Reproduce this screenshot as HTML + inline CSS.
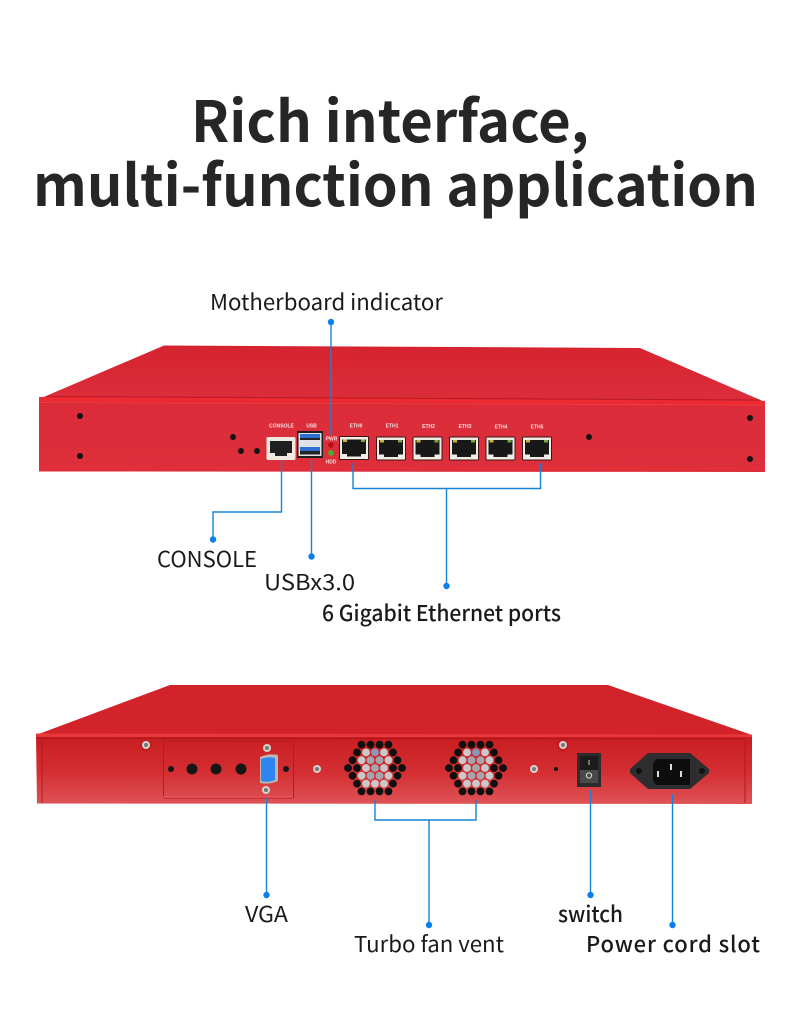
<!DOCTYPE html>
<html>
<head>
<meta charset="utf-8">
<style>
html,body{margin:0;padding:0;background:#fff;width:790px;height:1036px;overflow:hidden}
svg{display:block}
text{font-family:"Liberation Sans","Noto Sans CJK SC",sans-serif}
.t{font-family:"Noto Sans CJK SC","Liberation Sans",sans-serif;fill:#1a1a1a}
.h{font-family:"Noto Sans CJK SC","Liberation Sans",sans-serif;font-weight:700;font-size:57px;fill:#262626}
.m{font-family:"Liberation Sans",sans-serif;font-size:5px;font-weight:700;fill:#f3e0e0;text-anchor:middle}
.l{fill:none;stroke:#1583d6;stroke-width:1.4}
.d{fill:#0a80ee}
</style>
</head>
<body>
<svg width="790" height="1036" viewBox="0 0 790 1036" xmlns="http://www.w3.org/2000/svg">
<defs>
<linearGradient id="f1" x1="0" y1="0" x2="0" y2="1"><stop offset="0" stop-color="#dc2c39"/><stop offset="1" stop-color="#dd2e3b"/></linearGradient>
<linearGradient id="t1" x1="0" y1="0" x2="0" y2="1"><stop offset="0" stop-color="#d5242f"/><stop offset="1" stop-color="#dc2d3b"/></linearGradient>
<linearGradient id="f2" x1="0" y1="0" x2="0" y2="1"><stop offset="0" stop-color="#c81c20"/><stop offset=".55" stop-color="#d42f33"/><stop offset="1" stop-color="#de5357"/></linearGradient>
<g id="eth">
<rect x="0" y="0" width="30" height="24" rx="1.500" fill="#3a1518"/>
<rect x="1" y="1" width="28" height="22" fill="#f1ece4"/>
<path d="M3 3.500H27V18H22V20.500H8V18H3Z" fill="#181818"/>
<rect x="4" y="3.500" width="4" height="2.500" fill="#c9b23a"/>
<rect x="22" y="3.500" width="4" height="2.500" fill="#7ba83c"/>
</g>
<g id="fan">
<g fill="#0f0f0f">
<circle cx="-13.500" cy="-23.400" r="3.900"/><circle cx="-4.500" cy="-23.400" r="3.900"/><circle cx="4.500" cy="-23.400" r="3.900"/><circle cx="13.500" cy="-23.400" r="3.900"/>
<circle cx="-18" cy="-15.600" r="3.900"/><circle cx="18" cy="-15.600" r="3.900"/>
<circle cx="-22.500" cy="-7.800" r="3.900"/><circle cx="22.500" cy="-7.800" r="3.900"/>
<circle cx="-27" cy="0" r="3.900"/><circle cx="27" cy="0" r="3.900"/><circle cx="-18" cy="0" r="3.900"/><circle cx="18" cy="0" r="3.900"/>
<circle cx="-22.500" cy="7.800" r="3.900"/><circle cx="22.500" cy="7.800" r="3.900"/>
<circle cx="-18" cy="15.600" r="3.900"/><circle cx="18" cy="15.600" r="3.900"/>
<circle cx="-13.500" cy="23.400" r="3.900"/><circle cx="-4.500" cy="23.400" r="3.900"/><circle cx="4.500" cy="23.400" r="3.900"/><circle cx="13.500" cy="23.400" r="3.900"/>
<circle cx="-13.500" cy="-7.800" r="3.900" opacity=".35"/><circle cx="13.500" cy="7.800" r="3.900" opacity=".35"/>
</g>
<g fill="#c9c9cb">
<circle cx="-9" cy="-15.600" r="3.900"/><circle cx="0" cy="-15.600" r="3.900" fill="#8a97bb"/><circle cx="9" cy="-15.600" r="3.900"/>
<circle cx="-13.500" cy="-7.800" r="3.900"/><circle cx="-4.500" cy="-7.800" r="3.900" fill="#a5a6ad"/><circle cx="4.500" cy="-7.800" r="3.900" fill="#a5a6ad"/><circle cx="13.500" cy="-7.800" r="3.900"/>
<circle cx="-9" cy="0" r="3.900"/><circle cx="0" cy="0" r="3.900" fill="#a5a6ad"/><circle cx="9" cy="0" r="3.900"/>
<circle cx="-13.500" cy="7.800" r="3.900"/><circle cx="-4.500" cy="7.800" r="3.900" fill="#a5a6ad"/><circle cx="4.500" cy="7.800" r="3.900" fill="#a5a6ad"/><circle cx="13.500" cy="7.800" r="3.900"/>
<circle cx="-9" cy="15.600" r="3.900"/><circle cx="0" cy="15.600" r="3.900"/><circle cx="9" cy="15.600" r="3.900"/>
</g>
</g>
<g id="screw"><circle r="4" fill="#d7d2c8"/><circle r="2" fill="#777"/></g>
</defs>

<rect width="790" height="1036" fill="#fff"/>
<text class="h" x="191" y="142" textLength="398" lengthAdjust="spacingAndGlyphs">Rich interface,</text>
<text class="h" x="33" y="206" textLength="725" lengthAdjust="spacingAndGlyphs">multi-function application</text>

<!-- top device -->
<polygon points="164,345.500 640,348 765,402 39,399" fill="url(#t1)"/>
<polygon points="39,399 765,403 765,472 39,471.500" fill="url(#f1)"/>
<polygon points="39,397 765,401 765,404 39,401" fill="#ee2a30"/>
<line x1="46" y1="396.500" x2="760" y2="400" stroke="#b91a22" stroke-width="1"/>
<line x1="39" y1="402.500" x2="765" y2="405" stroke="#f03a40" stroke-width="1"/>
<line x1="45" y1="467" x2="765" y2="468.500" stroke="#ee2f35" stroke-width="1"/>
<g fill="#141414">
<circle cx="80" cy="416" r="3"/><circle cx="80" cy="456" r="3"/>
<circle cx="750" cy="418" r="3"/><circle cx="750" cy="459" r="3"/>
<circle cx="589" cy="437" r="3"/><circle cx="233" cy="437" r="3"/>
<circle cx="241" cy="451" r="3"/><circle cx="257" cy="451" r="3"/>
</g>
<text class="m" x="281.500" y="427.500">CONSOLE</text>
<text class="m" x="311.500" y="427.500">USB</text>
<text class="m" x="356" y="427.500">ETH0</text>
<text class="m" x="392" y="427.500">ETH1</text>
<text class="m" x="428.500" y="428">ETH2</text>
<text class="m" x="465" y="428">ETH3</text>
<text class="m" x="501" y="428.500">ETH4</text>
<text class="m" x="537" y="428.500">ETH5</text>
<text class="m" x="331.500" y="440.500">PWR</text>
<text class="m" x="331" y="463.500">HDD</text>
<circle cx="331" cy="445" r="2.800" fill="#b80e12"/>
<circle cx="331" cy="453" r="2.800" fill="#3fb52f"/>
<!-- console -->
<rect x="266.500" y="437" width="29" height="23" rx="1.500" fill="#efe9e0"/>
<path d="M270 441H292V453H287V456H275V453H270Z" fill="#1f1f1f"/>
<!-- usb -->
<rect x="297" y="431" width="26" height="27" fill="#1d1d22"/>
<rect x="298.500" y="433" width="23" height="23" fill="#e2e2e6"/>
<rect x="300" y="434" width="20" height="4" fill="#2f6fd0"/>
<rect x="300" y="447" width="20" height="4" fill="#2f6fd0"/>
<rect x="300" y="451" width="20" height="3.500" fill="#222"/>
<rect x="300" y="438" width="20" height="2" fill="#222"/>

<use href="#eth" x="339" y="436"/>
<use href="#eth" x="376" y="436.500"/>
<use href="#eth" x="412.500" y="436.500"/>
<use href="#eth" x="449" y="436.500"/>
<use href="#eth" x="485.500" y="436.500"/>
<use href="#eth" x="522" y="436.500"/>

<!-- top connectors -->
<path class="l" d="M331 322V435"/>
<circle class="d" cx="331" cy="322" r="3.200"/>
<path class="l" d="M281.500 460V512H213V539"/>
<circle class="d" cx="213" cy="539.500" r="3.200"/>
<path class="l" d="M311.500 460V556"/>
<circle class="d" cx="311.500" cy="556.500" r="3.200"/>
<path class="l" d="M353 463V488.500H540.500V463M446.500 488.500V586"/>
<circle class="d" cx="446.500" cy="586" r="3.200"/>

<text class="t" x="210" y="310" font-size="22" textLength="233" lengthAdjust="spacingAndGlyphs">Motherboard indicator</text>
<text class="t" x="157" y="567" font-size="22" textLength="100" lengthAdjust="spacingAndGlyphs">CONSOLE</text>
<text class="t" x="264" y="590" font-size="22" textLength="91" lengthAdjust="spacingAndGlyphs">USBx3.0</text>
<text class="t" x="322" y="621" font-size="22" font-weight="500" textLength="239" lengthAdjust="spacingAndGlyphs">6 Gigabit Ethernet ports</text>

<!-- bottom device -->
<polygon points="170,685 608,685 752,735 36,735" fill="#d2232a"/>
<polygon points="36,735 752,736 752,804 37,803.500" fill="url(#f2)"/>
<polygon points="36,733.500 752,734.500 752,737 36,737" fill="#e8383c"/>
<line x1="36" y1="738" x2="745" y2="739" stroke="#a9151a" stroke-width="1"/>
<line x1="745" y1="738" x2="745" y2="803" stroke="#b01a1f" stroke-width="1"/>
<line x1="42" y1="738" x2="42" y2="803" stroke="#b01a1f" stroke-width="1"/>
<!-- plate -->
<rect x="163.500" y="741" width="130" height="57" fill="none" stroke="#b21b20" stroke-width="1"/>
<line x1="163" y1="797" x2="293" y2="797" stroke="#ee5558" stroke-width="1.500"/>
<g fill="#161616">
<circle cx="171" cy="769" r="3"/><circle cx="192" cy="769" r="5.500"/><circle cx="216" cy="769" r="5.500"/><circle cx="241" cy="769" r="5.500"/><circle cx="286" cy="769" r="3"/>
<circle cx="556" cy="769" r="2"/>
</g>
<circle cx="146" cy="745" r="6" fill="#c01c22"/>
<circle cx="563" cy="745" r="6" fill="#c01c22"/>
<use href="#screw" x="267" y="748"/>
<use href="#screw" x="266" y="790"/>
<use href="#screw" x="317" y="769"/>
<use href="#screw" x="146" y="745"/>
<use href="#screw" x="534" y="769"/>
<use href="#screw" x="563" y="745"/>
<path d="M260 757Q269 753 278 755V781Q269 785 260 783Z" fill="#b9b8b0"/>
<path d="M261 759Q268 756 275 758V780Q268 783 261 781Z" fill="#2f86f0"/>
<use href="#fan" x="375" y="768"/>
<use href="#fan" x="476" y="768"/>
<!-- switch -->
<rect x="577" y="753" width="24" height="34" fill="#2c2c2c"/>
<rect x="580" y="756" width="18" height="27" fill="#1b1b1b"/>
<rect x="580" y="770" width="18" height="13" fill="#4a4a4a"/>
<rect x="588.500" y="760" width="1" height="5" fill="#ccc"/>
<circle cx="589" cy="775.500" r="2.600" fill="none" stroke="#ddd" stroke-width="1"/>
<!-- power -->
<path d="M648 753H690L709 769V773L690 789H648L630 773V769Z" fill="#2e2e30"/>
<path d="M656 759H690V785H656L653 781V764Z" fill="#0d0d0d"/>
<rect x="657" y="771" width="2" height="6" fill="#ddd"/>
<rect x="670" y="764" width="2" height="6" fill="#ddd"/>
<rect x="680" y="771" width="2" height="6" fill="#ddd"/>
<circle cx="639" cy="771" r="3" fill="#111"/><circle cx="702" cy="771" r="3" fill="#111"/>

<!-- bottom connectors -->
<path class="l" d="M266.500 798V895"/>
<circle class="d" cx="266.500" cy="895" r="3.200"/>
<path class="l" d="M375 800V820H476V800M429 820V925"/>
<circle class="d" cx="429" cy="925" r="3.200"/>
<path class="l" d="M590.500 790V895"/>
<circle class="d" cx="590.500" cy="895" r="3.200"/>
<path class="l" d="M672.500 794V925"/>
<circle class="d" cx="672.500" cy="925" r="3.200"/>

<text class="t" x="245" y="922" font-size="22" textLength="43" lengthAdjust="spacingAndGlyphs">VGA</text>
<text class="t" x="354" y="952" font-size="22" textLength="150" lengthAdjust="spacingAndGlyphs">Turbo fan vent</text>
<text class="t" x="558" y="922" font-size="22" font-weight="500" textLength="65" lengthAdjust="spacingAndGlyphs">switch</text>
<text class="t" x="586" y="952" font-size="22" font-weight="500" textLength="174" lengthAdjust="spacing">Power cord slot</text>
</svg>
</body>
</html>
